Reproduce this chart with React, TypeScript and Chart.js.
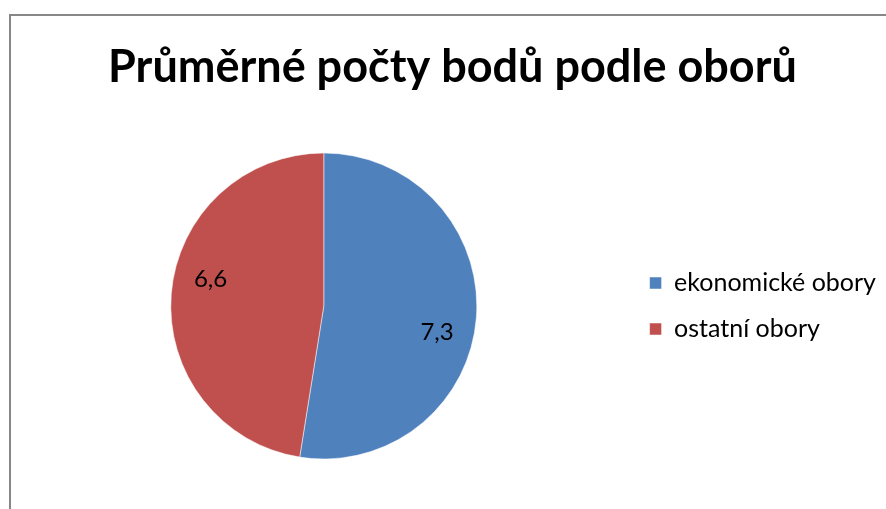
import React, { useEffect, useRef } from "react";
import { Chart, registerables } from "chart.js";

Chart.register(...registerables);

const categories = ["ekonomické obory", "ostatní obory"];
const values = [7.3, 6.6];
const valueLabels = ["7,3", "6,6"];
const colors = ["#4F81BD", "#C0504D"];
const titleText = "Průměrné počty bodů podle oborů";

const sliceLabels = {
  id: "sliceLabels",
  afterDatasetsDraw(chart: any) {
    const ctx = chart.ctx;
    const meta = chart.getDatasetMeta(0);
    ctx.save();
    ctx.font = "24px Lato";
    ctx.fillStyle = "#000";
    ctx.textAlign = "center";
    ctx.textBaseline = "middle";
    meta.data.forEach((arc: any, i: number) => {
      const p = arc.getProps(["x", "y", "startAngle", "endAngle", "outerRadius"], true);
      const mid = (p.startAngle + p.endAngle) / 2 + 0.15;
      const r = p.outerRadius * 0.76;
      ctx.fillText(valueLabels[i], p.x + Math.cos(mid) * r, p.y + Math.sin(mid) * r);
    });
    ctx.restore();
  },
};

export default function App() {
  const ref = useRef<HTMLCanvasElement>(null);
  useEffect(() => {
    const chart = new Chart(ref.current as HTMLCanvasElement, {
      type: "pie",
      data: {
        labels: categories,
        datasets: [
          {
            data: values,
            backgroundColor: colors,
            borderColor: "#ffffff",
            borderWidth: 0.5,
          },
        ],
      },
      options: {
        responsive: false,
        animation: false,
        radius: 153,
        layout: { padding: { left: 19, right: 0, top: 0, bottom: 0 } },
        plugins: {
          title: {
            display: true,
            text: titleText,
            color: "#000",
            font: { family: "Lato", size: 45, weight: "bold" },
            padding: { top: 40, bottom: 9 },
          },
          legend: {
            display: true,
            position: "right",
            align: "center",
            fullSize: false,
            labels: {
              boxWidth: 12,
              boxHeight: 12,
              padding: 21,
              color: "#000",
              font: { family: "Lato", size: 25 },
            },
          },
          tooltip: { enabled: false },
        },
      } as any,
      plugins: [sliceLabels],
    });
    return () => chart.destroy();
  }, []);
  return (
    <div
      style={{
        position: "fixed",
        left: 0,
        top: 0,
        width: 886,
        height: 509,
        overflow: "hidden",
        background: "#fff",
      }}
    >
      <canvas ref={ref} width={886} height={509} style={{ position: "absolute", left: 0, top: 0 }} />
      <div
        style={{
          position: "absolute",
          left: 9,
          top: 14,
          width: 900,
          height: 600,
          border: "2px solid #878787",
          pointerEvents: "none",
        }}
      />
    </div>
  );
}
